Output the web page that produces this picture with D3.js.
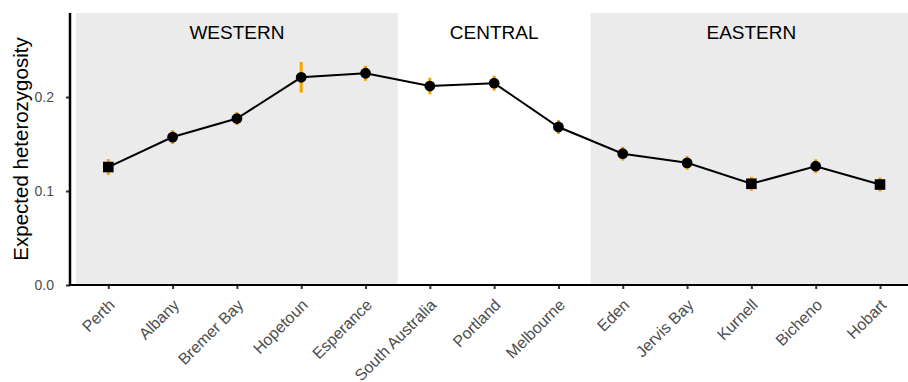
<!DOCTYPE html>
<html>
<head>
<meta charset="utf-8">
<script src="https://cdn.jsdelivr.net/npm/d3@7"></script>
<style>
  html, body { margin: 0; padding: 0; background: #fff; }
  svg { display: block; font-family: "Liberation Sans", Arial, Helvetica, sans-serif; }
</style>
</head>
<body>
<svg id="chart" width="908" height="382"></svg>
<script>
// ---- data ----
const sites = ["Perth","Albany","Bremer Bay","Hopetoun","Esperance","South Australia","Portland","Melbourne","Eden","Jervis Bay","Kurnell","Bicheno","Hobart"];
const regionOf = ["WESTERN","WESTERN","WESTERN","WESTERN","WESTERN","CENTRAL","CENTRAL","CENTRAL","EASTERN","EASTERN","EASTERN","EASTERN","EASTERN"];
const shapeOf = ["square","circle","circle","circle","circle","circle","circle","circle","circle","circle","square","circle","square"];
const heMean = [0.1255,0.1574,0.1771,0.2210,0.2253,0.2117,0.2147,0.1681,0.1397,0.1300,0.1077,0.1264,0.1069];
const heErr  = [0.0085,0.0074,0.0069,0.0163,0.0080,0.0088,0.0080,0.0074,0.0074,0.0074,0.0074,0.0074,0.0074];
const regions = ["WESTERN","CENTRAL","EASTERN"];
const regionShaded = [true,false,true];
const yTicks = [0.0,0.1,0.2];

// ---- layout ----
const W = 908, H = 382;
const svg = d3.select("#chart");
const x = d3.scalePoint().domain(sites).range([108.3, 880]);
const step = x.step();
const y = d3.scaleLinear().domain([0, 0.2894]).range([285, 13]);
const panelLeft = 70, panelTop = y.range()[1], panelBottom = y.range()[0];

// region backgrounds
regions.forEach((r, i) => {
  const idx = regionOf.map((g, j) => g === r ? j : -1).filter(j => j >= 0);
  const x0 = x(sites[idx[0]]) - step / 2;
  const x1 = x(sites[idx[idx.length - 1]]) + step / 2;
  if (regionShaded[i]) {
    svg.append("rect")
      .attr("x", x0).attr("y", panelTop)
      .attr("width", Math.min(x1, W) - x0).attr("height", panelBottom - panelTop)
      .attr("fill", "#ebebeb");
  }
  svg.append("text")
    .attr("x", (x0 + x1) / 2).attr("y", 39)
    .attr("text-anchor", "middle")
    .style("font-size", "19px")
    .attr("fill", "#000")
    .text(r);
});

// error bars
svg.append("g").selectAll("line").data(sites).join("line")
  .attr("x1", d => x(d)).attr("x2", d => x(d))
  .attr("y1", (d, i) => y(heMean[i] - heErr[i]))
  .attr("y2", (d, i) => y(heMean[i] + heErr[i]))
  .attr("stroke", "#F5A300").attr("stroke-width", 3);

// line
const line = d3.line().x((d, i) => x(sites[i])).y(d => y(d));
svg.append("path").datum(heMean)
  .attr("d", line).attr("fill", "none")
  .attr("stroke", "#000").attr("stroke-width", 2);

// points
const pts = svg.append("g");
sites.forEach((s, i) => {
  if (shapeOf[i] === "square") {
    pts.append("rect")
      .attr("x", x(s) - 5.3).attr("y", y(heMean[i]) - 5.3)
      .attr("width", 10.6).attr("height", 10.6).attr("fill", "#000");
  } else {
    pts.append("circle")
      .attr("cx", x(s)).attr("cy", y(heMean[i])).attr("r", 5.4).attr("fill", "#000");
  }
});

// y axis
const yAxis = d3.axisLeft(y).tickValues(yTicks).tickFormat(d3.format(".1f")).tickSize(4).tickPadding(12);
const gy = svg.append("g").attr("transform", `translate(${panelLeft},0)`).call(yAxis);
gy.attr("font-size", null).attr("font-family", null);
gy.select(".domain").remove();
gy.selectAll(".tick line").attr("stroke", "#333").attr("stroke-width", 2);
gy.selectAll(".tick text").style("font-size", "14px").attr("fill", "#4d4d4d");
svg.append("line").attr("x1", panelLeft).attr("x2", panelLeft)
  .attr("y1", panelTop).attr("y2", panelBottom + 1)
  .attr("stroke", "#000").attr("stroke-width", 2.5);

// x axis
const xAxis = d3.axisBottom(x).tickSize(4).tickSizeOuter(0);
const gx = svg.append("g").attr("transform", `translate(0,${panelBottom})`).call(xAxis);
gx.attr("font-size", null).attr("font-family", null);
gx.select(".domain").remove();
gx.selectAll(".tick line").attr("stroke", "#333").attr("stroke-width", 2);
gx.selectAll(".tick text")
  .style("font-size", "16px").attr("fill", "#4d4d4d")
  .attr("text-anchor", "end")
  .attr("y", 0).attr("dy", 0)
  .attr("transform", "translate(7,21) rotate(-45)");
svg.append("line").attr("x1", panelLeft - 1.2).attr("x2", W)
  .attr("y1", panelBottom).attr("y2", panelBottom)
  .attr("stroke", "#000").attr("stroke-width", 2);

// y axis title
svg.append("text")
  .attr("transform", `translate(28,${(panelTop + panelBottom) / 2}) rotate(-90)`)
  .attr("text-anchor", "middle")
  .style("font-size", "20.5px")
  .attr("fill", "#000")
  .text("Expected heterozygosity");
</script>
</body>
</html>
